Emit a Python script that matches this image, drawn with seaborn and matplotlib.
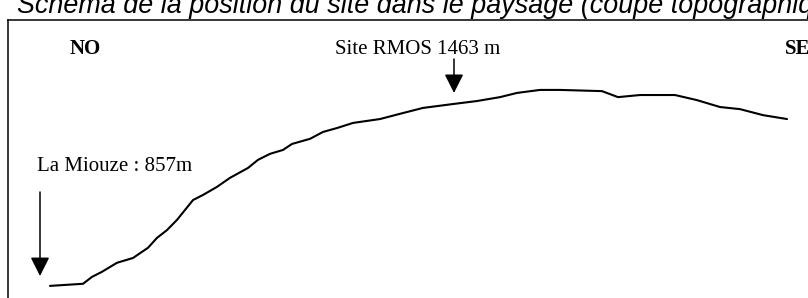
import numpy as np
import pandas as pd
import matplotlib
matplotlib.use('Agg')
import matplotlib.pyplot as plt
import seaborn as sns

sns.set_style('white')
plt.rcParams['font.family'] = ['Liberation Serif', 'DejaVu Serif']
plt.rcParams['text.color'] = 'black'

# profil topographique NO -> SE (distance relative, altitude en m)
distance = [0, 33, 42, 52, 67, 83, 98, 107, 117, 127, 135, 143, 153, 167, 180,
            198, 208, 220, 233, 242, 260, 273, 287, 303, 330, 353, 373, 403,
            427, 450, 467, 490, 510, 552, 568, 590, 625, 647, 670, 690, 713, 737]
altitude = [857, 864, 887, 904, 934, 950, 984, 1017, 1043, 1077, 1110, 1143,
            1160, 1187, 1217, 1250, 1277, 1297, 1310, 1330, 1347, 1370, 1383,
            1400, 1413, 1433, 1450, 1463, 1473, 1486, 1500, 1510, 1510, 1506,
            1486, 1493, 1493, 1476, 1453, 1446, 1426, 1413]

riviere_nom = 'La Miouze'
riviere_alt = 857
site_nom = 'Site RMOS'
site_dist = 403
site_alt = 1463

df = pd.DataFrame({'distance': distance, 'altitude': altitude})

fig = plt.figure(figsize=(8.08, 2.98), dpi=100)
ax = fig.add_axes([8 / 808, -20 / 298, 820 / 808, 1.0])

sns.lineplot(data=df, x='distance', y='altitude', ax=ax, color='black',
             linewidth=1.5, estimator=None, sort=False)

ax.set_xlim(-42, 778)
ax.set_ylim(750, 1743)
ax.set_xticks([])
ax.set_yticks([])
ax.set_xlabel('')
ax.set_ylabel('')
for s in ax.spines.values():
    s.set_color('black')
    s.set_linewidth(1.1)

arrow = dict(arrowstyle='-|>,head_length=1.15,head_width=0.58', color='black',
             lw=1.1, shrinkA=0, shrinkB=0, mutation_scale=10)

# fleche vers le site
ax.annotate('', xy=(site_dist + 1, site_alt + 37), xytext=(site_dist + 1, site_alt + 150),
            arrowprops=arrow)
# fleche vers la riviere
ax.annotate('', xy=(-10, riviere_alt + 33), xytext=(-10, riviere_alt + 313),
            arrowprops=arrow)

ax.text(0.0939, 0.904, 'NO', transform=ax.transAxes, ha='center', va='center',
        fontsize=15, fontweight='bold')
ax.text(0.9476, 0.904, 'SE', transform=ax.transAxes, ha='left', va='center',
        fontsize=15, fontweight='bold')
ax.text(0.3988, 0.886, f'{site_nom} {site_alt} m', transform=ax.transAxes,
        ha='left', va='baseline', fontsize=15)
ax.text(0.0354, 0.493, f'{riviere_nom} : {riviere_alt}m', transform=ax.transAxes,
        ha='left', va='baseline', fontsize=15)

fig.text(17 / 808, 1 - 13 / 298,
         'Schéma de la position du site dans le paysage (coupe topographique)',
         ha='left', va='baseline', fontsize=19.4, style='italic',
         family=['Liberation Sans', 'DejaVu Sans'])

fig.savefig('out.png', dpi=100)
